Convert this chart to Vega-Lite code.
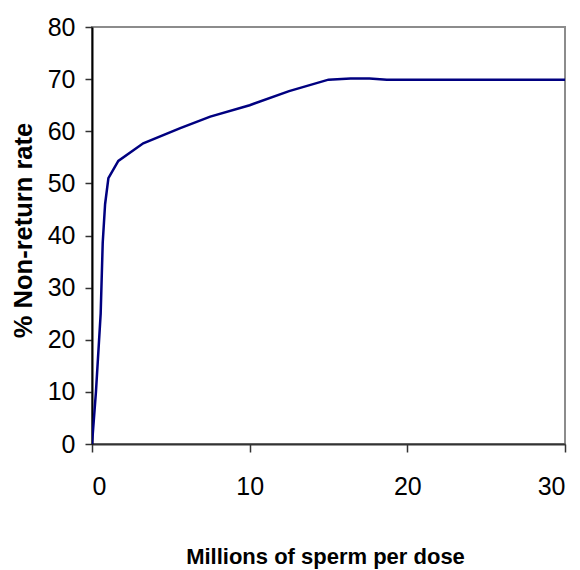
{
  "$schema": "https://vega.github.io/schema/vega-lite/v6.json",
  "width": 473,
  "height": 417,
  "autosize": {"type": "none"},
  "padding": {"left": 92, "top": 27, "right": 15, "bottom": 126},
  "background": "white",
  "config": {
    "view": {"stroke": "#8c8c8c", "strokeWidth": 2},
    "font": "Liberation Sans"
  },
  "data": {
    "values": [
      {"dose": 0, "rate": 0},
      {"dose": 0.25, "rate": 10},
      {"dose": 0.55, "rate": 25},
      {"dose": 0.68, "rate": 38.6},
      {"dose": 0.83, "rate": 46},
      {"dose": 1.04, "rate": 51},
      {"dose": 1.67, "rate": 54.3},
      {"dose": 3.25, "rate": 57.7},
      {"dose": 5.6, "rate": 60.6},
      {"dose": 7.5, "rate": 62.8},
      {"dose": 10, "rate": 65},
      {"dose": 12.5, "rate": 67.7},
      {"dose": 15, "rate": 69.9},
      {"dose": 16.4, "rate": 70.1},
      {"dose": 17.6, "rate": 70.1},
      {"dose": 18.7, "rate": 69.9},
      {"dose": 20, "rate": 69.9},
      {"dose": 25, "rate": 69.9},
      {"dose": 30, "rate": 69.9}
    ]
  },
  "mark": {"type": "line", "color": "#000080", "strokeWidth": 2.5, "clip": true},
  "encoding": {
    "x": {
      "field": "dose",
      "type": "quantitative",
      "scale": {"domain": [0, 30], "nice": false},
      "axis": {
        "values": [0, 10, 20, 30],
        "grid": false,
        "domainColor": "#333333",
        "domainWidth": 2,
        "tickColor": "#333333",
        "tickWidth": 1.5,
        "tickSize": 8,
        "labelFontSize": 25,
        "labelColor": "black",
        "labelBaseline": "middle",
        "labelPadding": 34,
        "labelFont": "Liberation Sans",
        "title": "Millions of sperm per dose",
        "titleFontSize": 22,
        "titleFontWeight": "bold",
        "titleColor": "black",
        "titleFont": "Liberation Sans",
        "titleX": 233,
        "titleY": 112,
        "titleBaseline": "middle",
        "titleAlign": "center"
      }
    },
    "y": {
      "field": "rate",
      "type": "quantitative",
      "scale": {"domain": [0, 80], "nice": false},
      "axis": {
        "values": [0, 10, 20, 30, 40, 50, 60, 70, 80],
        "grid": false,
        "domainColor": "black",
        "domainWidth": 2,
        "tickColor": "#333333",
        "tickWidth": 1.5,
        "tickSize": 7,
        "labelFontSize": 25,
        "labelColor": "black",
        "labelPadding": 10,
        "labelFont": "Liberation Sans",
        "title": "% Non-return rate",
        "titleFontSize": 25.5,
        "titleFontWeight": "bold",
        "titleColor": "black",
        "titleFont": "Liberation Sans",
        "titleAngle": 270,
        "titleX": -69,
        "titleY": 203,
        "titleBaseline": "middle",
        "titleAlign": "center"
      }
    }
  }
}
